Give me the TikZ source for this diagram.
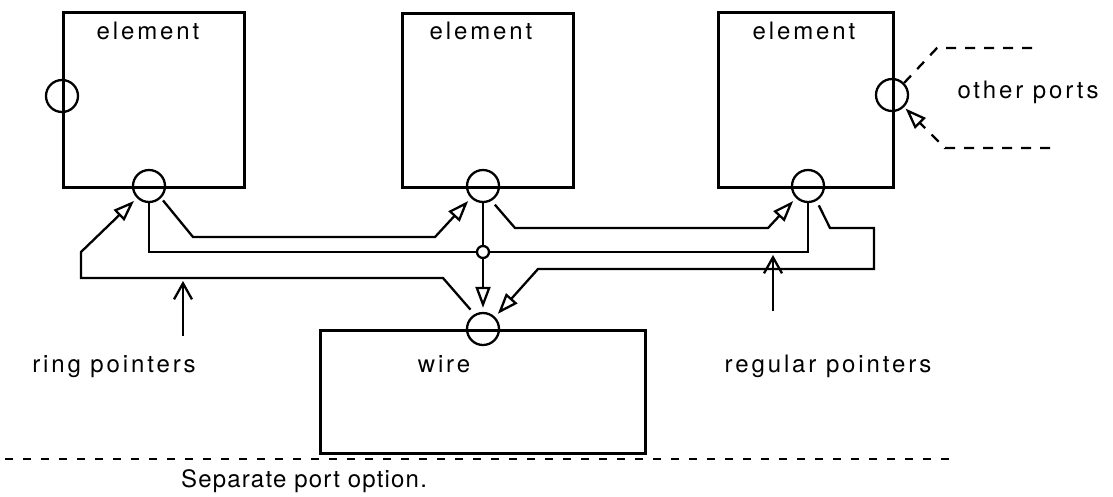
\documentclass[tikz,border=0pt]{standalone}
\usepackage{fontspec}
\setmainfont[LetterSpace=12]{TeX Gyre Heros}
\newfontfamily\captionfont[LetterSpace=5]{TeX Gyre Heros}
\usetikzlibrary{arrows.meta}

\tikzset{
  box/.style={draw, line width=2.5pt, inner sep=0pt, anchor=north west},
  port/.style={draw, circle, minimum size=32pt, inner sep=0pt},
  ptr/.style={-{Triangle[open, length=21pt, width=15pt]}},
  lblarrow/.style={-{Straight Barb[length=16pt, width=18pt]}},
  dashline/.style={dash pattern=on 10pt off 9pt}
}

\begin{document}
\begin{tikzpicture}[x=1pt, y=-1pt, line width=2.3pt, font=\fontsize{24}{28}\selectfont]
    \useasboundingbox (0,0) rectangle (1113,496);

    % draw the boxes
    \node[box, minimum width=181pt, minimum height=175pt] (e1) at (62,11) {};
    \node[box, minimum width=171pt, minimum height=174pt] (e2) at (401,12) {};
    \node[box, minimum width=175pt, minimum height=175pt] (e3) at (717,11) {};
    \node[box, minimum width=325pt, minimum height=123pt] (w) at (319,329) {};

    % the texts
    \node[anchor=base] (t1) at (148,39) {element};
    \node[anchor=base] (t2) at (481,39) {element};
    \node[anchor=base] (t3) at (804,39) {element};
    \node[anchor=base] (tw) at (444,372) {wire};
    \node[anchor=base] (rp) at (114,372) {ring pointers};
    \node[anchor=base] (gp) at (828,372) {regular pointers};
    \node[anchor=base] (op) at (1028,98) {other ports};
    \node[anchor=base, font=\captionfont\fontsize{24}{28}\selectfont] (cap) at (304,487) {Separate port option.};

    % the ports (circles sit on the box edges)
    \node[port] (p1l) at (62,96) {};
    \node[port] (p1) at (149,186) {};
    \node[port] (p2) at (483,186) {};
    \node[port] (p3) at (808,186) {};
    \node[port] (p3r) at (892,95) {};
    \node[port] (pw) at (483,329) {};
    \node[port, minimum size=12pt] (j) at (483,252) {};

    % ring pointers
    \draw[ptr, shorten <=3pt, shorten >=4pt] (p1.-45) -- (193,237) -- (435,237) -- (p2.south west);
    \draw[ptr, shorten <=5pt, shorten >=4pt] (p2.-60) -- (515,228) -- (768,228) -- (p3.south west);
    \draw[ptr, shorten <=5pt, shorten >=4pt] (p3.-60) -- (830,228) -- (874,228) -- (874,269) -- (538,269) -- (pw.north east);
    \draw[ptr, shorten <=6pt, shorten >=4pt] (pw.120) -- (443,278) -- (81,278) -- (81,252) -- (p1.south west);

    % regular pointers
    \draw (p1.south) |- (j.west);
    \draw (p3.south) |- (j.east);
    \draw (p2.south) -- (j.north);
    \draw[ptr, shorten >=4pt] (j.south) -- (pw.north);

    % other ports
    \coordinate (opout) at (1040,48);
    \coordinate (opin) at (1050,148);
    \coordinate (opbend) at (925,128);
    \draw[dashline] (p3r.north east) -- (937,48) -- (opout);
    \draw[dashline] (opin) -- (945,148) -- (opbend);
    \draw[ptr, shorten >=2pt] (opbend) -- (p3r.south east);

    % arrows from the labels
    \coordinate (rpt) at (183,336);
    \coordinate (rph) at (183,281);
    \coordinate (gpt) at (773,311);
    \coordinate (gph) at (773,255);
    \draw[lblarrow] (rpt) -- (rph);
    \draw[lblarrow] (gpt) -- (gph);

    % separator
    \coordinate (sepl) at (5,459);
    \coordinate (sepr) at (955,459);
    \draw[dash pattern=on 8pt off 10pt] (sepl) -- (sepr);

\end{tikzpicture}
\end{document}
